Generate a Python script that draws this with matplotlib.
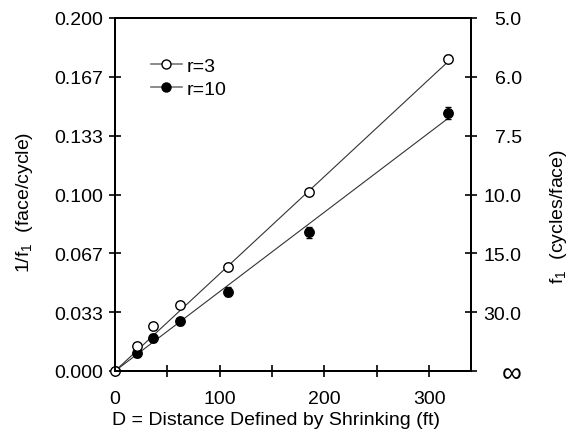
import matplotlib
matplotlib.use("Agg")
import matplotlib.pyplot as plt
import numpy as np

plt.rcParams['font.family'] = ['Liberation Sans', 'DejaVu Sans']
plt.rcParams['mathtext.fontset'] = 'custom'
plt.rcParams['mathtext.rm'] = 'Liberation Sans'
plt.rcParams['mathtext.it'] = 'Liberation Sans:italic'
plt.rcParams['mathtext.default'] = 'rm'

# Data
distance = [0, 21, 36, 62, 108, 185, 318]
inv_f_r3 = [0.0, 0.0142, 0.0255, 0.0374, 0.0589, 0.1014, 0.1768]
inv_f_r10 = [0.0, 0.0102, 0.0187, 0.0283, 0.0450, 0.0785, 0.1462]
err_r3 = [0.0, 0.0015, 0.0015, 0.0015, 0.0015, 0.0015, 0.002]
err_r10 = [0.0, 0.002, 0.002, 0.002, 0.0025, 0.003, 0.0035]
slope_r3 = 0.000551
slope_r10 = 0.000450
fit_x = [0, 318]

yticks = [0, 1/30, 2/30, 3/30, 4/30, 5/30, 6/30]
yticklabels = ['0.000', '0.033', '0.067', '0.100', '0.133', '0.167', '0.200']
right_labels = ['\u221e', '30.0', '15.0', '10.0', '7.5', '6.0', '5.0']
xticks = [0, 50, 100, 150, 200, 250, 300]
xticklabels = ['0', '', '100', '', '200', '', '300']

fig = plt.figure(figsize=(5.73, 4.35), dpi=100)
ax = fig.add_axes([115/573, 1-372/435, (471-115)/573, (372-19)/435])

fx = np.array(fit_x)
ax.plot(fx, slope_r3*fx, color='#333333', lw=0.8, zorder=2)
ax.plot(fx, slope_r10*fx, color='#333333', lw=0.8, zorder=2)

ax.errorbar(distance, inv_f_r10, yerr=err_r10, fmt='o', color='black',
            mfc='black', mec='black', ms=6.8, capsize=2.2, elinewidth=1,
            capthick=1, zorder=3)
ax.errorbar(distance, inv_f_r3, yerr=err_r3, fmt='o', color='black',
            mfc='white', mec='black', ms=6.8, mew=1, capsize=2.2,
            elinewidth=1, capthick=1, zorder=4, clip_on=False)

# legend handles
h1, = ax.plot([], [], '-o', color='#777777', mfc='white', mec='black', ms=6.5, lw=1.2)
h2, = ax.plot([], [], '-o', color='#777777', mfc='black', mec='black', ms=6.5, lw=1.2)
ax.legend([h1, h2], ['r=3', 'r=10'], loc='upper left', bbox_to_anchor=(0.078, 0.91),
          frameon=False, fontsize=14, handlelength=1.6, handletextpad=0.25,
          labelspacing=0.25, borderaxespad=0)

ax.set_xlim(0, 340)
ax.set_ylim(0, 0.2)
ax.set_xticks(xticks)
ax.set_xticklabels(xticklabels)
ax.set_yticks(yticks)
ax.set_yticklabels(yticklabels)

for s in ax.spines.values():
    s.set_linewidth(1.4)

ax.tick_params(axis='both', direction='inout', length=9, width=1.2, labelsize=14,
               pad=4)
ax.tick_params(axis='x', pad=9)
ax.tick_params(axis='y', which='both', left=True, right=False)

ax2 = ax.twinx()
ax2.set_ylim(0, 0.2)
ax2.set_yticks(yticks)
ax2.set_yticklabels(right_labels)
ax2.tick_params(axis='y', direction='inout', length=9, width=1.2, labelsize=14, pad=32)
for lbl in ax2.get_yticklabels():
    lbl.set_horizontalalignment('right')
ax2.get_yticklabels()[0].set_fontsize(20)
for s in ax2.spines.values():
    s.set_linewidth(1.4)

ax.set_xlabel('D = Distance Defined by Shrinking (ft)', fontsize=14)
ax.xaxis.set_label_coords(0.452, -0.114, transform=ax.transAxes)
ax.xaxis.label.set_verticalalignment('top')
ax.set_ylabel('1/f$_1$  (face/cycle)', fontsize=14)
ax.yaxis.set_label_coords(-0.225, 0.48)
ax2.set_ylabel('f$_1$  (cycles/face)', fontsize=14)
ax2.yaxis.set_label_coords(1.216, 0.44)

fig.savefig('out.png', dpi=100)
